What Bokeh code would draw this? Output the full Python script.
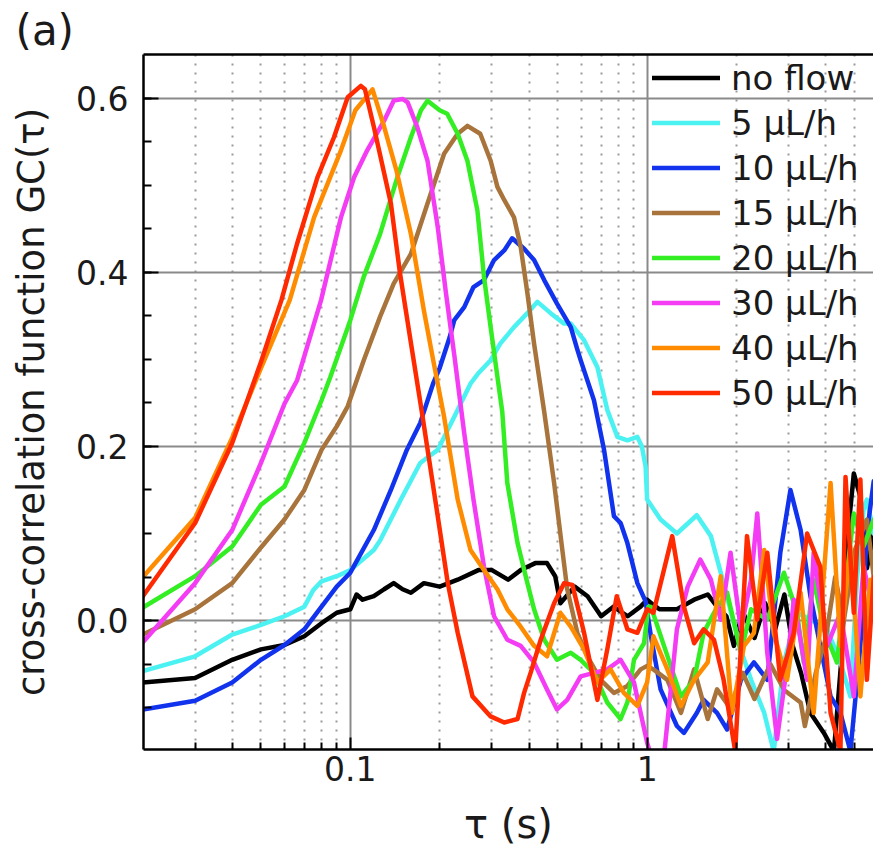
from bokeh.plotting import figure
from bokeh.models import (Range1d, LogAxis, FixedTicker, SingleIntervalTicker, PrintfTickFormatter,
                          CustomJSTickFormatter, Legend, LegendItem, Title)
from bokeh.embed import file_html
from bokeh.resources import INLINE

# ---------------- data ----------------
series_names = ["no flow", "5 µL/h", "10 µL/h", "15 µL/h", "20 µL/h", "30 µL/h", "40 µL/h", "50 µL/h"]
series_colors = ["#000000", "#4cf2f2", "#1133ee", "#a8743c", "#33ee22", "#f43cf4", "#ff8c00", "#ff2a00"]

tau_noflow = [0.02, 0.03, 0.04, 0.05, 0.06, 0.07, 0.08, 0.09, 0.10, 0.105, 0.11, 0.12, 0.13, 0.14, 0.15,
              0.16, 0.177, 0.20, 0.23, 0.27, 0.30, 0.34, 0.375, 0.42, 0.46, 0.49, 0.51, 0.57, 0.63, 0.70,
              0.77, 0.86, 0.95, 1.0, 1.05, 1.1, 1.26, 1.44, 1.6, 1.72, 1.85, 1.96, 2.1, 2.3, 2.5, 2.7,
              2.9, 3.1, 3.3, 3.55, 3.94, 4.26, 4.5, 4.75, 4.97, 5.23, 5.5, 5.8]
g_noflow = [-0.071, -0.066, -0.045, -0.033, -0.028, -0.018, -0.003, 0.009, 0.013, 0.030, 0.024, 0.028,
            0.036, 0.043, 0.036, 0.032, 0.043, 0.039, 0.047, 0.058, 0.058, 0.047, 0.058, 0.066, 0.066,
            0.051, 0.020, 0.039, 0.028, 0.005, 0.016, 0.005, 0.016, 0.024, 0.018, 0.013, 0.013, 0.024,
            0.030, 0.016, 0.005, -0.029, 0.010, -0.020, 0.020, -0.010, 0.030, -0.030, -0.060, -0.106,
            -0.129, -0.150, -0.050, 0.100, 0.169, 0.142, 0.060, 0.100]

tau_5 = [0.02, 0.03, 0.04, 0.05, 0.06, 0.07, 0.075, 0.08, 0.09, 0.10, 0.12, 0.1265, 0.148, 0.172, 0.197,
         0.224, 0.254, 0.27, 0.297, 0.32, 0.356, 0.395, 0.427, 0.473, 0.525, 0.553, 0.613, 0.68, 0.734,
         0.794, 0.858, 0.927, 0.96, 0.988, 1.0, 1.11, 1.26, 1.47, 1.64, 1.77, 1.95, 2.1, 2.24, 2.48,
         2.67, 2.89, 3.2, 3.6, 4.04, 4.48, 4.84, 5.1, 5.36, 5.5, 5.8]
g_5 = [-0.058, -0.041, -0.016, -0.005, 0.005, 0.016, 0.035, 0.045, 0.051, 0.058, 0.081, 0.093, 0.139,
       0.181, 0.196, 0.234, 0.272, 0.284, 0.299, 0.318, 0.337, 0.353, 0.366, 0.353, 0.341, 0.341, 0.322,
       0.291, 0.242, 0.211, 0.207, 0.211, 0.200, 0.177, 0.139, 0.116, 0.100, 0.121, 0.097, 0.055, 0.000,
       -0.040, -0.068, -0.106, -0.150, -0.048, 0.009, 0.000, -0.010, -0.048, -0.087, 0.050, 0.127,
       0.139, 0.100]

tau_10 = [0.02, 0.03, 0.04, 0.05, 0.06, 0.07, 0.08, 0.09, 0.10, 0.12, 0.137, 0.155, 0.172, 0.19, 0.20,
          0.216, 0.224, 0.242, 0.26, 0.282, 0.305, 0.33, 0.351, 0.385, 0.416, 0.45, 0.497, 0.553, 0.582,
          0.597, 0.662, 0.716, 0.773, 0.814, 0.858, 0.927, 0.988, 1.03, 1.11, 1.26, 1.33, 1.47, 1.55,
          1.72, 1.86, 2.07, 2.29, 2.54, 2.81, 3.04, 3.29, 3.55, 3.83, 4.15, 4.48, 4.84, 5.23, 5.5, 5.8]
g_10 = [-0.102, -0.092, -0.071, -0.045, -0.028, -0.010, 0.016, 0.039, 0.055, 0.104, 0.150, 0.196, 0.227,
        0.272, 0.290, 0.325, 0.345, 0.360, 0.383, 0.391, 0.414, 0.425, 0.439, 0.427, 0.414, 0.391, 0.364,
        0.337, 0.311, 0.299, 0.253, 0.196, 0.120, 0.112, 0.089, 0.043, 0.022, -0.018, -0.079, -0.121,
        -0.129, -0.106, -0.091, -0.106, -0.125, -0.068, -0.048, -0.068, 0.078, 0.150, 0.104, 0.028,
        -0.029, -0.087, -0.106, -0.150, -0.029, 0.100, 0.160]

tau_15 = [0.02, 0.03, 0.04, 0.05, 0.06, 0.07, 0.08, 0.09, 0.098, 0.111, 0.126, 0.14, 0.16, 0.182, 0.207,
          0.23, 0.248, 0.274, 0.297, 0.313, 0.33, 0.356, 0.375, 0.395, 0.416, 0.45, 0.486, 0.518, 0.538,
          0.582, 0.629, 0.697, 0.773, 0.858, 0.951, 1.0, 1.05, 1.17, 1.3, 1.44, 1.6, 1.72, 1.9, 2.1, 2.3,
          2.6, 2.9, 3.29, 3.4, 3.7, 4.0, 4.3, 4.6, 5.0, 5.5, 5.8]
g_15 = [-0.016, 0.013, 0.043, 0.084, 0.116, 0.150, 0.196, 0.223, 0.246, 0.299, 0.349, 0.387, 0.421,
        0.479, 0.536, 0.559, 0.568, 0.559, 0.528, 0.498, 0.483, 0.463, 0.429, 0.376, 0.318, 0.240, 0.158,
        0.081, 0.036, -0.014, -0.041, -0.068, -0.083, -0.075, -0.056, -0.052, -0.056, -0.068, -0.106,
        -0.056, -0.113, -0.079, -0.100, -0.060, -0.090, -0.050, -0.080, -0.094, -0.121, -0.060, -0.020,
        0.050, 0.000, 0.080, 0.116, 0.050]

tau_20 = [0.02, 0.03, 0.04, 0.05, 0.06, 0.07, 0.08, 0.0857, 0.10, 0.111, 0.126, 0.144, 0.16, 0.173, 0.182,
          0.20, 0.212, 0.23, 0.248, 0.268, 0.282, 0.297, 0.313, 0.325, 0.338, 0.366, 0.395, 0.416, 0.45,
          0.497, 0.553, 0.597, 0.662, 0.734, 0.814, 0.858, 0.903, 0.976, 1.01, 1.03, 1.14, 1.3, 1.44, 1.55,
          1.68, 1.86, 2.07, 2.24, 2.54, 2.89, 3.2, 3.37, 3.64, 3.94, 4.36, 4.97, 5.36, 5.8]
g_20 = [0.015, 0.051, 0.085, 0.133, 0.154, 0.204, 0.253, 0.280, 0.345, 0.395, 0.444, 0.509, 0.555, 0.586,
        0.597, 0.586, 0.582, 0.559, 0.528, 0.471, 0.395, 0.337, 0.280, 0.240, 0.158, 0.089, 0.043, 0.013,
        -0.022, -0.045, -0.037, -0.045, -0.060, -0.094, -0.113, -0.094, -0.045, -0.026, 0.016, 0.016,
        -0.029, -0.087, -0.068, -0.014, 0.009, 0.032, -0.037, 0.013, 0.001, 0.055, 0.009, -0.048, 0.047,
        -0.010, -0.048, 0.123, 0.085, 0.116]

tau_30 = [0.02, 0.03, 0.04, 0.05, 0.06, 0.0662, 0.0797, 0.093, 0.103, 0.114, 0.13, 0.14, 0.15, 0.156,
          0.168, 0.182, 0.197, 0.21, 0.224, 0.242, 0.26, 0.282, 0.305, 0.338, 0.375, 0.416, 0.46, 0.497,
          0.538, 0.597, 0.662, 0.734, 0.814, 0.903, 1.0, 1.03, 1.14, 1.26, 1.37, 1.51, 1.64, 1.77, 1.91,
          2.07, 2.24, 2.35, 2.54, 2.74, 2.96, 3.12, 3.46, 3.64, 4.04, 4.48, 4.97, 5.36, 5.8]
g_30 = [-0.025, 0.043, 0.104, 0.181, 0.249, 0.276, 0.368, 0.463, 0.509, 0.540, 0.574, 0.597, 0.599, 0.595,
        0.567, 0.528, 0.452, 0.376, 0.305, 0.215, 0.139, 0.062, 0.005, -0.022, -0.029, -0.048, -0.079,
        -0.102, -0.091, -0.064, -0.060, -0.056, -0.045, -0.071, -0.140, -0.155, -0.155, -0.010, 0.039,
        0.070, 0.047, 0.001, 0.078, -0.010, 0.047, 0.123, -0.037, -0.136, -0.052, 0.024, -0.068, 0.078,
        -0.029, 0.009, -0.087, 0.062, 0.009]

tau_40 = [0.02, 0.03, 0.04, 0.05, 0.0625, 0.0755, 0.093, 0.104, 0.1188, 0.130, 0.143, 0.160, 0.177, 0.19,
          0.207, 0.23, 0.254, 0.282, 0.313, 0.338, 0.375, 0.416, 0.46, 0.51, 0.553, 0.613, 0.68, 0.753,
          0.835, 0.927, 1.0, 1.05, 1.17, 1.3, 1.44, 1.6, 1.77, 1.93, 2.12, 2.29, 2.48, 2.67, 2.96, 3.29,
          3.64, 4.15, 4.48, 4.84, 5.23, 5.65, 5.9]
g_40 = [0.050, 0.118, 0.210, 0.290, 0.368, 0.463, 0.540, 0.586, 0.610, 0.567, 0.517, 0.444, 0.356, 0.300,
        0.234, 0.139, 0.081, 0.058, 0.036, 0.013, -0.007, -0.029, -0.041, 0.009, -0.007, -0.033, -0.071,
        -0.056, -0.083, -0.098, -0.071, -0.018, -0.056, -0.098, -0.068, -0.048, 0.051, -0.106, -0.029,
        -0.014, 0.081, -0.014, -0.068, 0.032, -0.106, 0.158, -0.029, 0.085, -0.087, 0.047, 0.000]

tau_50 = [0.02, 0.03, 0.04, 0.05, 0.0586, 0.0662, 0.0775, 0.0881, 0.098, 0.1085, 0.112, 0.120, 0.137,
          0.147, 0.160, 0.175, 0.197, 0.213, 0.23, 0.258, 0.297, 0.33, 0.366, 0.385, 0.405, 0.438, 0.486,
          0.525, 0.56, 0.613, 0.68, 0.734, 0.79, 0.858, 0.927, 1.0, 1.05, 1.215, 1.33, 1.44, 1.55, 1.68,
          1.81, 1.98, 2.17, 2.35, 2.54, 2.81, 3.12, 3.46, 3.83, 4.15, 4.48, 4.66, 4.97, 5.23, 5.5, 5.8]
g_50 = [0.028, 0.112, 0.204, 0.297, 0.368, 0.433, 0.509, 0.555, 0.601, 0.614, 0.610, 0.567, 0.479, 0.399,
        0.319, 0.235, 0.120, 0.043, -0.014, -0.087, -0.110, -0.117, -0.113, -0.083, -0.060, -0.022,
        0.020, 0.043, 0.041, -0.014, -0.091, -0.033, 0.028, -0.010, -0.014, 0.013, 0.009, 0.097, 0.016,
        -0.026, -0.010, -0.022, -0.068, -0.150, 0.097, 0.001, 0.078, -0.068, -0.014, 0.100, 0.062, -0.106,
        -0.150, 0.165, 0.009, 0.162, -0.068, 0.050]

series_tau = [tau_noflow, tau_5, tau_10, tau_15, tau_20, tau_30, tau_40, tau_50]
series_g = [g_noflow, g_5, g_10, g_15, g_20, g_30, g_40, g_50]

x_major = [0.01, 0.1, 1, 10]
x_minor = [0.02, 0.03, 0.04, 0.05, 0.06, 0.07, 0.08, 0.09,
           0.2, 0.3, 0.4, 0.5, 0.6, 0.7, 0.8, 0.9,
           2, 3, 4, 5, 6, 7, 8, 9]

FONT = "DejaVu Sans"
TXT = "#1a1a1a"

p = figure(width=873, height=849, x_axis_type="log",
           x_range=Range1d(0.0201, 5.79), y_range=Range1d(-0.148, 0.650),
           output_backend="svg", toolbar_location=None, title=None,
           min_border_left=143, min_border_right=0, min_border_top=54, min_border_bottom=99)
p.outline_line_color = None
p.background_fill_color = "white"
p.border_fill_color = "white"

xt = FixedTicker(ticks=x_major, minor_ticks=x_minor)
yt = SingleIntervalTicker(interval=0.2, num_minor_ticks=4)

xa = p.xaxis[0]
xa.ticker = xt
xa.formatter = CustomJSTickFormatter(code="return String(Number(tick.toPrecision(4)));")
ya = p.yaxis[0]
ya.ticker = yt
ya.formatter = PrintfTickFormatter(format="%.1f")

for ax in (xa, ya):
    ax.axis_line_color = "black"
    ax.axis_line_width = 2.5
    ax.major_tick_line_color = "black"
    ax.minor_tick_line_color = "black"
    ax.major_tick_line_width = 2
    ax.minor_tick_line_width = 2
    ax.major_tick_out = 0
    ax.minor_tick_out = 0
    ax.major_label_text_font = FONT
    ax.major_label_text_font_size = "33px"
    ax.major_label_text_color = TXT
    ax.axis_label_text_font = FONT
    ax.axis_label_text_font_style = "normal"
    ax.axis_label_text_color = TXT
xa.major_tick_in = 12
xa.minor_tick_in = 7
xa.major_label_standoff = 6
xa.axis_label = "τ (s)"
xa.axis_label_text_font_size = "40px"
xa.axis_label_standoff = 17
ya.major_tick_in = 15
ya.minor_tick_in = 8
ya.major_label_standoff = 15
ya.axis_label = "cross-correlation function GC(τ)"
ya.axis_label_text_font_size = "37px"
ya.axis_label_standoff = 20

top = LogAxis(ticker=xt, major_label_text_font_size="0px", major_label_standoff=0,
              major_tick_in=0, major_tick_out=0, minor_tick_in=0, minor_tick_out=0,
              axis_line_color="black", axis_line_width=2.5)
top.major_label_text_alpha = 0
p.add_layout(top, "above")

panel_letter = Title(text="(a)", align="left", offset=-128, standoff=0,
                     text_font=FONT, text_font_size="42px", text_font_style="normal",
                     text_color=TXT)
p.add_layout(panel_letter, "above")

p.xgrid.ticker = xt
p.ygrid.ticker = yt
p.xgrid.grid_line_color = "#8a8a8a"
p.xgrid.grid_line_width = 2
p.ygrid.grid_line_color = "#8a8a8a"
p.ygrid.grid_line_width = 2
p.xgrid.minor_grid_line_color = "#9a9a9a"
p.xgrid.minor_grid_line_width = 2
p.xgrid.minor_grid_line_dash = "2 7"

items = []
for name, t, g, c in zip(series_names, series_tau, series_g, series_colors):
    r = p.line(t, g, line_color=c, line_width=4.5, line_join="round", line_cap="round")
    items.append(LegendItem(label=name, renderers=[r]))

legend = Legend(items=items, location=(509, 334), orientation="vertical",
                padding=0, margin=0, spacing=0,
                glyph_width=68, glyph_height=45, label_height=45, label_standoff=11,
                label_text_font=FONT, label_text_font_size="34px", label_text_color=TXT,
                border_line_color=None, background_fill_alpha=0)
p.add_layout(legend)

open("out.html", "w").write(file_html(p, INLINE))
